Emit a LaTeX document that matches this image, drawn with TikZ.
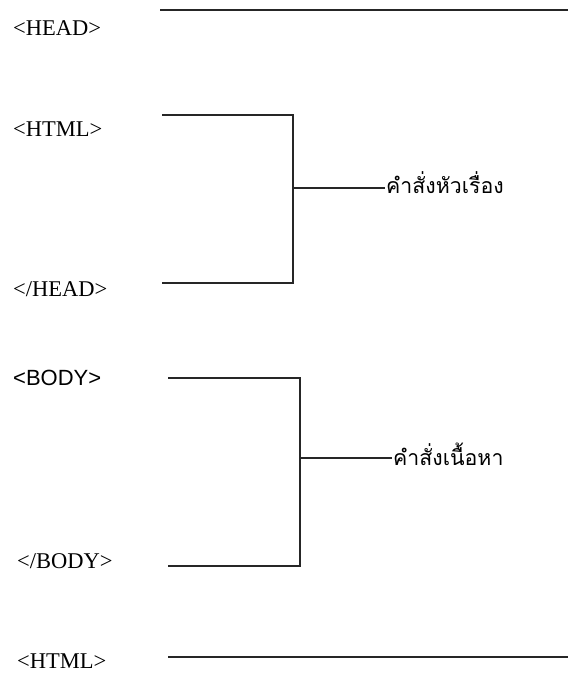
\documentclass[tikz,border=0pt]{standalone}
\usepackage{fontspec}
\setmainfont{Liberation Serif}
\newfontfamily\tagsans{Liberation Sans}
\newfontfamily\thaifont[Script=Thai]{Loma}
\begin{document}
\begin{tikzpicture}[x=1pt,y=-1pt,
  tagtext/.style={anchor=west,inner sep=0pt,font=\fontsize{22.5}{26}\selectfont},
  thaitext/.style={anchor=west,inner sep=1pt,font=\thaifont\fontsize{21.3}{25}\selectfont},
  rule/.style={line width=1.4pt,black!85}]
\useasboundingbox (0,0) rectangle (568,681);

% tag labels down the left side
\node[tagtext] (head)   at (13,28)  {<HEAD>};
\node[tagtext] (html)   at (13,129) {<HTML>};
\node[tagtext] (ehead)  at (13,289) {</HEAD>};
\node[tagtext,font=\tagsans\fontsize{22}{26}\selectfont] (body) at (13,378) {<BODY>};
\node[tagtext] (ebody)  at (17,561) {</BODY>};
\node[tagtext] (ehtml)  at (17,661) {<HTML>};

% group labels on the right
\node[thaitext] (headcmd) at (385,183) {คำสั่งหัวเรื่อง};
\node[thaitext] (bodycmd) at (392,454) {คำสั่งเนื้อหา};

% line ends
\coordinate (t1) at (160,10);   \coordinate (t2) at (568,10);
\coordinate (h1) at (162,115);  \coordinate (h2) at (293,115);
\coordinate (h3) at (162,283);  \coordinate (h4) at (293,283);
\coordinate (hm) at (293,188);
\coordinate (b1) at (168,378);  \coordinate (b2) at (300,378);
\coordinate (b3) at (168,566);  \coordinate (b4) at (300,566);
\coordinate (bm) at (300,458);
\coordinate (z1) at (168,657);  \coordinate (z2) at (568,657);

% plain rules
\draw[rule] (t1) -- (t2);
\draw[rule] (z1) -- (z2);

% head bracket
\draw[rule] (h1) -- (h2) -- (h4) -- (h3);
\draw[rule] (hm) -- (hm -| headcmd.west);

% body bracket
\draw[rule] (b1) -- (b2) -- (b4) -- (b3);
\draw[rule] (bm) -- (bm -| bodycmd.west);
\end{tikzpicture}
\end{document}
